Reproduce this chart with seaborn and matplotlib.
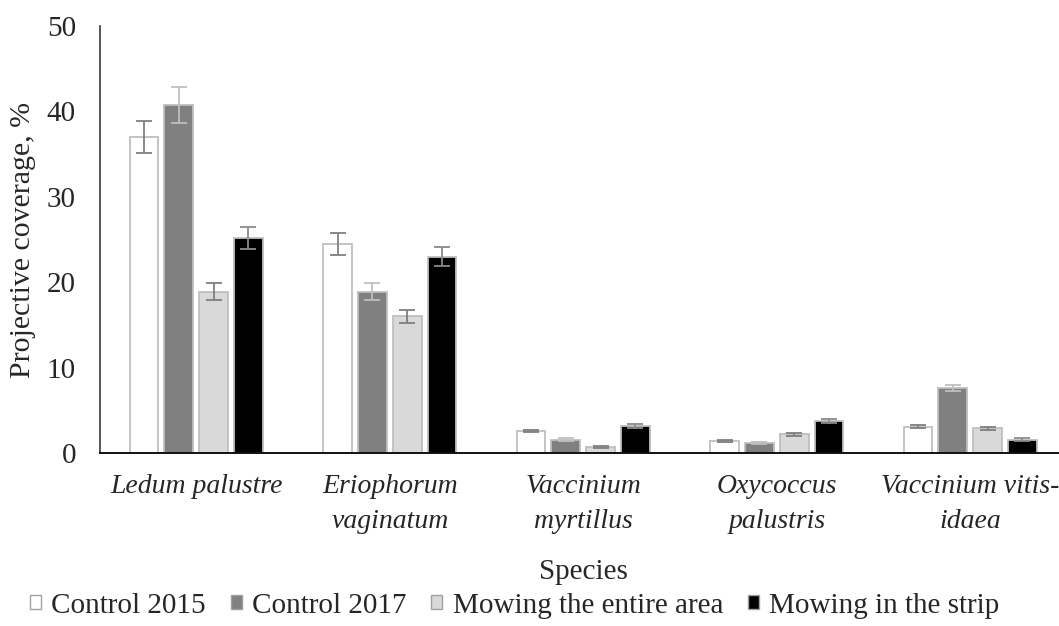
import numpy as np
import pandas as pd
import matplotlib
matplotlib.use("Agg")
import matplotlib.pyplot as plt
import seaborn as sns

species = ["Ledum palustre", "Eriophorum\nvaginatum", "Vaccinium\nmyrtillus",
           "Oxycoccus\npalustris", "Vaccinium vitis-\nidaea"]
treatments = ["Control 2015", "Control 2017", "Mowing the entire area", "Mowing in the strip"]

control_2015 = [37.0, 24.5, 2.6, 1.4, 3.1]
control_2017 = [40.7, 18.9, 1.6, 1.2, 7.6]
mowing_entire = [18.9, 16.0, 0.7, 2.2, 2.9]
mowing_strip = [25.2, 23.0, 3.2, 3.8, 1.6]

err_2015 = [1.9, 1.3, 0.15, 0.12, 0.2]
err_2017 = [2.1, 1.0, 0.15, 0.12, 0.35]
err_entire = [1.0, 0.8, 0.1, 0.2, 0.2]
err_strip = [1.3, 1.1, 0.2, 0.2, 0.15]

y_ticks = [0, 10, 20, 30, 40, 50]

values = [control_2015, control_2017, mowing_entire, mowing_strip]
errors = [err_2015, err_2017, err_entire, err_strip]

df = pd.DataFrame({
    "Species": species * 4,
    "Treatment": [t for t in treatments for _ in species],
    "Value": [v for vals in values for v in vals],
})

fill_colors = ["#ffffff", "#808080", "#d9d9d9", "#000000"]
err_colors = ["#7f7f7f", "#bfbfbf", "#7f7f7f", "#8a8a8a"]

sns.set_theme(style="white")
plt.rcParams["font.family"] = ["Liberation Serif", "DejaVu Serif"]

FS = 20

fig = plt.figure(figsize=(10.59, 6.26), dpi=100)
ax = fig.add_axes([99.5 / 1059, 1 - 453.3 / 626, (1067 - 99.5) / 1059, (453.3 - 25.7) / 626])

sns.barplot(data=df, x="Species", y="Value", hue="Treatment", hue_order=treatments,
            order=species, palette=fill_colors, errorbar=None, width=0.72, gap=0.17,
            edgecolor="#bfbfbf", linewidth=1.3, ax=ax, legend=True)

for cont, errs, ec in zip(ax.containers, errors, err_colors):
    xs = [p.get_x() + p.get_width() / 2 for p in cont.patches]
    hs = [p.get_height() for p in cont.patches]
    ax.errorbar(xs, hs, yerr=errs, fmt="none", ecolor=ec, elinewidth=1.3,
                capsize=6, capthick=1.3)

ax.set_ylim(0, 50)
ax.set_xlim(-0.5, 4.5)
ax.set_yticks(y_ticks)
ax.set_yticklabels([str(t) for t in y_ticks], fontsize=21)
ax.tick_params(axis="y", direction="in", length=9, width=1, color="#404040", pad=17)
ax.tick_params(axis="x", which="major", length=0, pad=15)
ax.set_xticks(np.arange(0.5, 4.5, 1.0), minor=True)
ax.tick_params(axis="x", which="minor", direction="in", length=7, width=1.3, color="#202020")
for lbl in ax.get_xticklabels():
    lbl.set_fontstyle("italic")
    lbl.set_fontsize(FS)
    lbl.set_linespacing(1.5)

ax.set_xlabel("Species", fontsize=21, labelpad=18)
ax.set_ylabel("Projective coverage, %", fontsize=21.5, labelpad=8)

sns.despine(ax=ax)
ax.spines["left"].set_color("#404040")
ax.spines["bottom"].set_color("#000000")
ax.spines["bottom"].set_linewidth(1.3)

handles, labels = ax.get_legend_handles_labels()
ax.get_legend().remove()
for h in handles:
    h.set_edgecolor("#a0a0a0")
    h.set_linewidth(1.0)
fig.legend(handles, labels, loc="lower center", bbox_to_anchor=(0.486, -0.03), ncol=4,
           frameon=False, fontsize=21, handlelength=0.38, handleheight=0.38,
           handletextpad=0.35, columnspacing=0.85)

fig.savefig("out.png", dpi=100)
